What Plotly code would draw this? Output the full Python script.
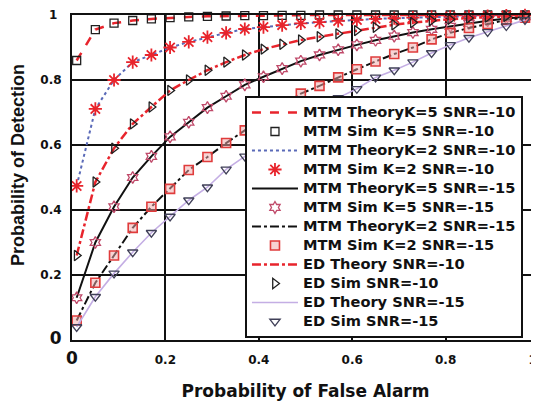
import plotly.graph_objects as go

pf = [0.01, 0.05, 0.09, 0.13, 0.17, 0.21, 0.25, 0.29, 0.33, 0.37, 0.41, 0.45, 0.49,
      0.53, 0.57, 0.61, 0.65, 0.69, 0.73, 0.77, 0.81, 0.85, 0.89, 0.93, 0.97]

mtm_k5_snr10 = [0.86, 0.955, 0.975, 0.983, 0.988, 0.992, 0.994, 0.996, 0.997, 0.998, 0.998, 0.999, 0.999,
                1, 1, 1, 1, 1, 1, 1, 1, 1, 1, 1, 1]
mtm_k2_snr10 = [0.474, 0.711, 0.80, 0.855, 0.877, 0.90, 0.917, 0.932, 0.945, 0.957, 0.963, 0.969, 0.974,
                0.978, 0.982, 0.985, 0.988, 0.99, 0.992, 0.994, 0.995, 0.996, 0.997, 0.998, 0.999]
mtm_k5_snr15 = [0.13, 0.30, 0.41, 0.50, 0.565, 0.625, 0.67, 0.715, 0.75, 0.785, 0.81, 0.835, 0.858,
                0.877, 0.893, 0.908, 0.922, 0.935, 0.946, 0.956, 0.965, 0.974, 0.982, 0.989, 0.995]
mtm_k2_snr15 = [0.06, 0.176, 0.26, 0.345, 0.41, 0.465, 0.523, 0.563, 0.606, 0.645, 0.685, 0.722, 0.758,
                0.782, 0.808, 0.833, 0.857, 0.88, 0.90, 0.925, 0.945, 0.96, 0.972, 0.985, 0.992]
ed_snr10 = [0.26, 0.486, 0.59, 0.665, 0.717, 0.768, 0.80, 0.83, 0.855, 0.877, 0.895, 0.91, 0.923,
            0.933, 0.942, 0.952, 0.962, 0.97, 0.977, 0.983, 0.987, 0.991, 0.994, 0.996, 0.998]
ed_snr15 = [0.04, 0.133, 0.205, 0.27, 0.33, 0.38, 0.43, 0.47, 0.525, 0.565, 0.605, 0.64, 0.675,
            0.71, 0.745, 0.773, 0.808, 0.83, 0.855, 0.883, 0.908, 0.93, 0.948, 0.966, 0.985]

tick_vals = [0, 0.2, 0.4, 0.6, 0.8, 1]
x_tick_text = ["<span style='font-size:17px'>0</span>", "0.2", "0.4", "0.6", "0.8", "1&nbsp;&nbsp;&nbsp;"]
y_tick_text = ["<span style='font-size:17px'>0</span>", "0.2", "0.4", "0.6", "0.8", "1&nbsp;"]

LEG = "<span style='font-size:14.6px'>{}</span>"
WIDE = "DejaVu Sans, Verdana, sans-serif"
NARROW = "Liberation Sans, Arial, sans-serif"

fig = go.Figure()

def line(y, name, color, dash, width):
    fig.add_trace(go.Scatter(x=pf, y=y, mode="lines", name=LEG.format(name),
                             line=dict(color=color, dash=dash, width=width), cliponaxis=False))

def mark(y, name, symbol, color, size, fill="rgba(0,0,0,0)", lw=1.3):
    fig.add_trace(go.Scatter(x=pf, y=y, mode="markers", name=LEG.format(name), cliponaxis=False,
                             marker=dict(symbol=symbol, size=size, color=fill,
                                         line=dict(color=color, width=lw))))

line(mtm_k5_snr10, "MTM TheoryK=5 SNR=-10", "#e8242c", "dash", 2.5)
mark(mtm_k5_snr10, "MTM Sim K=5 SNR=-10", "square", "#202020", 8)
line(mtm_k2_snr10, "MTM TheoryK=2 SNR=-10", "#5a6ab8", "dot", 2)
mark(mtm_k2_snr10, "MTM Sim K=2 SNR=-10", "asterisk-open", "#e8242c", 11, fill="#e8242c", lw=1.8)
line(mtm_k5_snr15, "MTM TheoryK=5 SNR=-15", "#111111", "solid", 2)
mark(mtm_k5_snr15, "MTM Sim K=5 SNR=-15", "hexagram", "#c04a6a", 9)
line(mtm_k2_snr15, "MTM TheoryK=2 SNR=-15", "#111111", "dashdot", 2)
mark(mtm_k2_snr15, "MTM Sim K=2 SNR=-15", "square", "#e03c3c", 9, fill="rgba(240,170,170,0.5)", lw=1.6)
line(ed_snr10, "ED Theory SNR=-10", "#e8242c", "dashdot", 2.5)
mark(ed_snr10, "ED Sim SNR=-10", "triangle-right", "#202020", 9)
line(ed_snr15, "ED Theory SNR=-15", "#c4aee4", "solid", 1.6)
mark(ed_snr15, "ED Sim SNR=-15", "triangle-down", "#404058", 9)

axis_common = dict(range=[0, 1], tickvals=tick_vals, showgrid=True, gridcolor="#111111", gridwidth=1.5,
                   showline=True, linecolor="#111111", linewidth=2, mirror=True, ticks="",
                   zeroline=False, automargin=False, ticklabeloverflow="allow",
                   tickfont=dict(family=WIDE, size=12, color="#111111", weight="bold"))

# the page body adds an 8px offset, so the figure is 8px smaller than the window
fig.update_layout(
    width=531, height=393,
    margin=dict(l=64, r=0, t=7, b=61),
    paper_bgcolor="white", plot_bgcolor="white",
    font=dict(family=WIDE, color="#111111", weight="bold"),
    xaxis=dict(**axis_common, ticktext=x_tick_text, ticklabelstandoff=8,
               title=dict(text="Probability of False Alarm",
                          font=dict(family=WIDE, size=17, weight="bold"), standoff=20)),
    yaxis=dict(**axis_common, ticktext=y_tick_text, ticklabelstandoff=6,
               title=dict(text="&nbsp;&nbsp;&nbsp;&nbsp;&nbsp;Probability of Detection",
                          font=dict(family=NARROW, size=18, weight="bold"), standoff=12)),
    legend=dict(x=0.3704, y=0.7508, xanchor="left", yanchor="top", bgcolor="white",
                bordercolor="#111111", borderwidth=2,
                font=dict(family=WIDE, size=12, weight="bold", color="#111111"),
                itemwidth=46, tracegroupgap=0),
    showlegend=True,
)

fig.write_html("out.html")
